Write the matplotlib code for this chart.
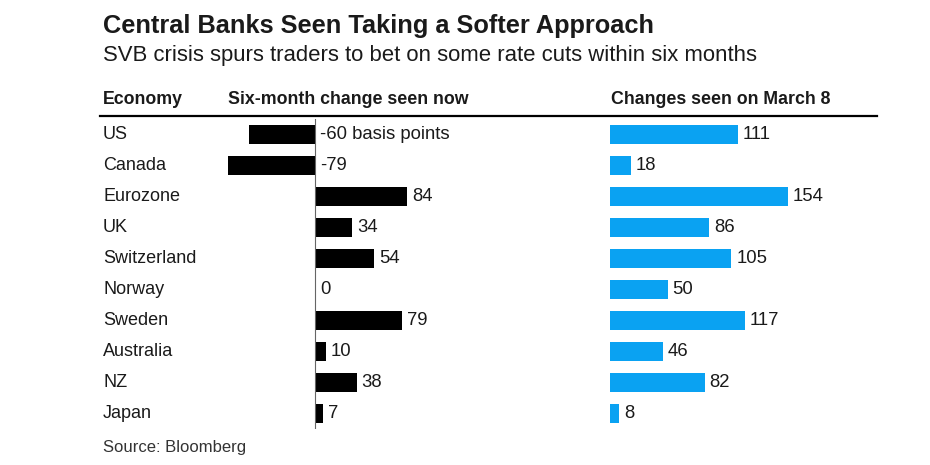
import numpy as np
import matplotlib.pyplot as plt

# ------------------------------  DATA  -----------------------------
economies = ['US', 'Canada', 'Eurozone', 'UK', 'Switzerland', 'Norway',
             'Sweden', 'Australia', 'NZ', 'Japan']
change_now = [-60, -79, 84, 34, 54, 0, 79, 10, 38, 7]
change_mar8 = [111, 18, 154, 86, 105, 50, 117, 46, 82, 8]

W, H = 930, 465
BLUE = '#0AA2F2'
TXT = '#1a1a1a'
plt.rcParams['font.family'] = ['Liberation Sans', 'DejaVu Sans']


def fx(px):
    return px / W


def fy(py):
    return 1 - py / H


# ------------------------------  MAIN BODY  -----------------------------
fig = plt.figure(figsize=(9.3, 4.65), dpi=100)
fig.patch.set_facecolor('white')

top, bottom = 119, 429
y = np.arange(len(economies))

# left panel: zero at x=315 px, 1.1 px per bp
l0, l1, zero, scale = 200, 560, 315, 1.1
ax1 = fig.add_axes([fx(l0), fy(bottom), fx(l1 - l0), (bottom - top) / H])
ax1.barh(y, change_now, height=0.64, color='black')
ax1.set_xlim(-(zero - l0) / scale, (l1 - zero) / scale)
ax1.axvline(0, color='#666666', lw=0.8, ymin=0, ymax=1)
for i, v in enumerate(change_now):
    lab = '%d basis points' % v if i == 0 else '%d' % v
    ax1.annotate(lab, xy=(max(v, 0), i), xytext=(3.5, 0),
                 textcoords='offset points', va='center', ha='left',
                 fontsize=13.3, color=TXT)

# right panel: starts at x=610 px, 1.155 px per bp
r0, r1, rscale = 610, 900, 1.155
ax2 = fig.add_axes([fx(r0), fy(bottom), fx(r1 - r0), (bottom - top) / H])
ax2.barh(y, change_mar8, height=0.64, color=BLUE)
ax2.set_xlim(0, (r1 - r0) / rscale)
for i, v in enumerate(change_mar8):
    ax2.annotate('%d' % v, xy=(v, i), xytext=(3.5, 0),
                 textcoords='offset points', va='center', ha='left',
                 fontsize=13.3, color=TXT)

for ax in (ax1, ax2):
    ax.set_ylim(len(economies) - 0.5, -0.5)
    ax.axis('off')

# row labels
for i, name in enumerate(economies):
    fig.text(fx(103), fy(top + 15.5 + 31 * i), name, fontsize=13,
             color=TXT, va='center', ha='left')

# titles and headers
fig.text(fx(103), fy(26.5), 'Central Banks Seen Taking a Softer Approach',
         fontsize=18.3, fontweight='bold', color=TXT, va='center')
fig.text(fx(103), fy(55.5),
         'SVB crisis spurs traders to bet on some rate cuts within six months',
         fontsize=15.9, color=TXT, va='center')
fig.text(fx(103), fy(100), 'Economy', fontsize=12.8, fontweight='bold',
         color=TXT, va='center')
fig.text(fx(228), fy(100), 'Six-month change seen now', fontsize=12.8,
         fontweight='bold', color=TXT, va='center')
fig.text(fx(611), fy(100), 'Changes seen on March 8', fontsize=12.8,
         fontweight='bold', color=TXT, va='center')
fig.add_artist(plt.Line2D([fx(100), fx(877)], [fy(116), fy(116)],
                          color='black', lw=1.6))
fig.text(fx(103), fy(447), 'Source: Bloomberg', fontsize=12,
         color='#333333', va='center')

fig.savefig('out.png', dpi=100)
print('Done!')
# ------------------------------ END -----------------------------------
